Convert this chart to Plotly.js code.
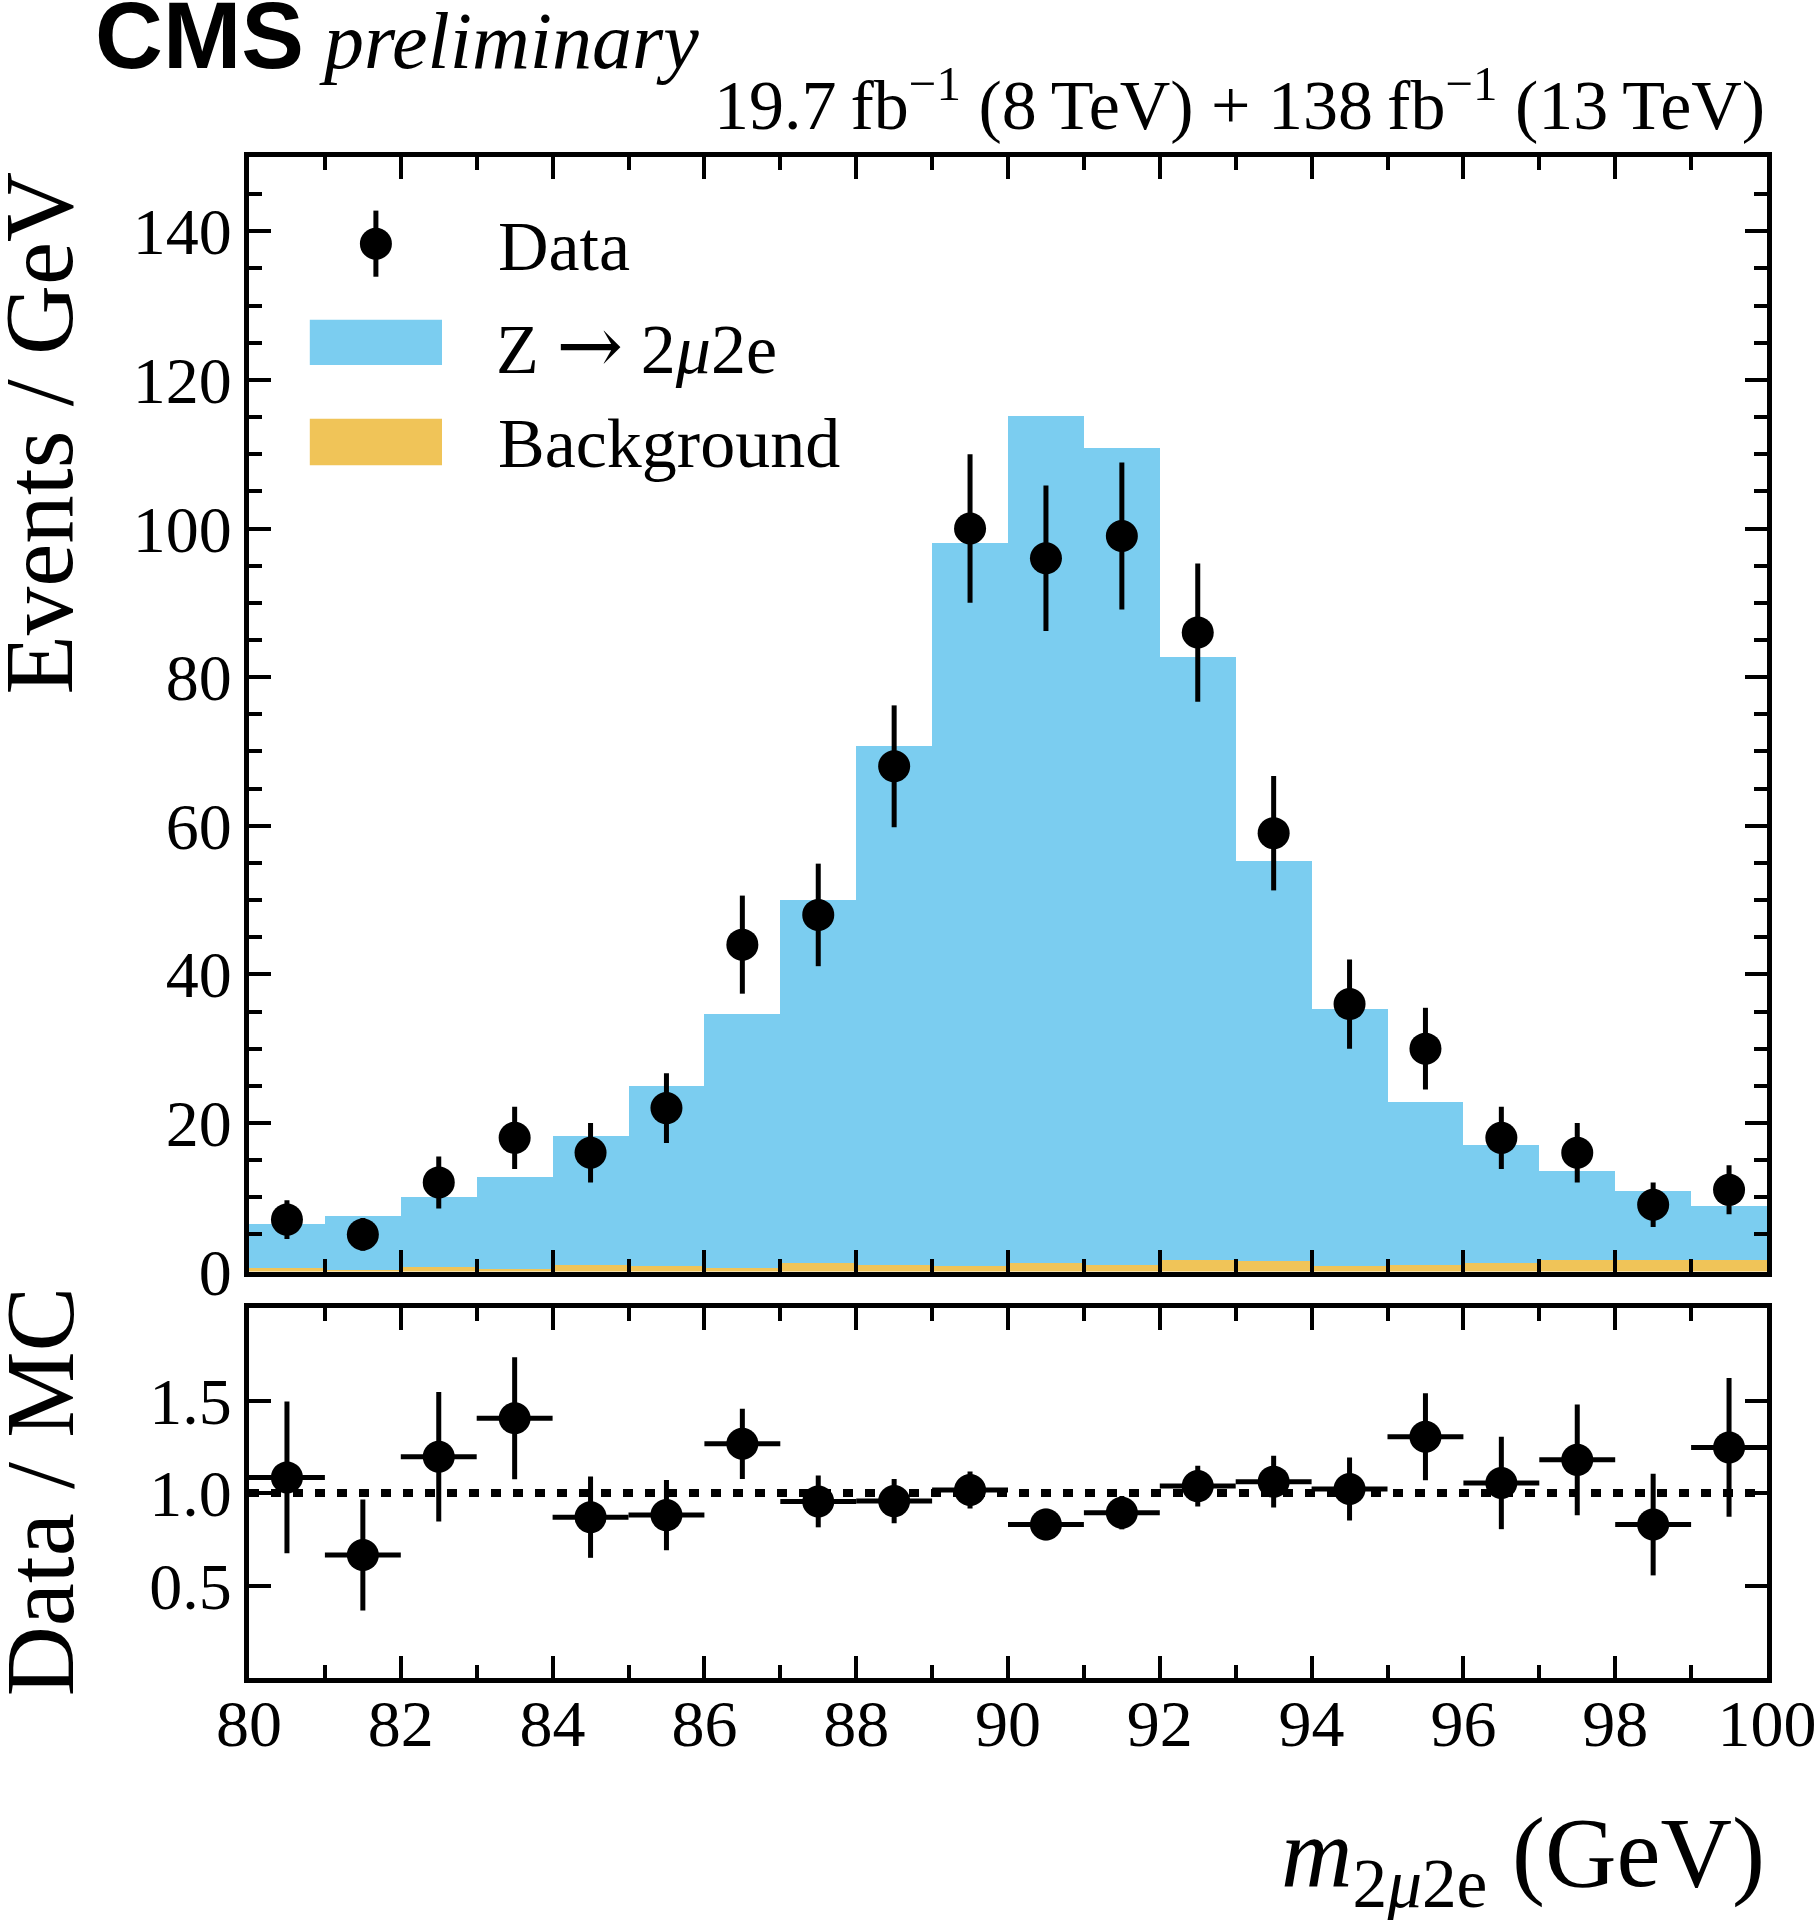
<!DOCTYPE html>
<html>
<head>
<meta charset="utf-8">
<script src="https://cdn.plot.ly/plotly-3.0.1.min.js"></script>
<style>html,body{margin:0;padding:0;background:#fff;}</style>
</head>
<body>
<div id="chart" style="width:1817px;height:1920px;"></div>
<script>
// ---- data ----
const binCenters = [80.5,81.5,82.5,83.5,84.5,85.5,86.5,87.5,88.5,89.5,90.5,91.5,92.5,93.5,94.5,95.5,96.5,97.5,98.5,99.5];
const binWidths  = [1,1,1,1,1,1,1,1,1,1,1,1,1,1,1,1,1,1,1,1];
const backgroundMC = [0.45,0.2,0.6,0.4,0.9,0.7,0.55,1.15,0.85,0.7,1.15,0.9,1.6,1.45,0.8,0.9,1.2,1.5,1.5,1.5];
const signalMC     = [6.0,7.3,9.4,12.3,17.4,24.3,34.05,48.85,69.95,97.3,114.05,109.9,81.1,53.85,34.5,21.9,15.8,12.0,9.3,7.3];
const dataCounts   = [7,5,12,18,16,22,44,48,68,100,96,99,86,59,36,30,18,16,9,11];
const dataErr      = [2.6,2.2,3.5,4.2,4.0,4.7,6.6,6.9,8.2,10.0,9.8,9.9,9.3,7.7,6.0,5.5,4.2,4.0,3.0,3.3];
const ratioVals    = [1.085,0.665,1.197,1.405,0.87,0.881,1.267,0.955,0.957,1.017,0.83,0.894,1.038,1.062,1.022,1.305,1.055,1.18,0.83,1.247];
const ratioErr     = [0.41,0.30,0.35,0.33,0.22,0.19,0.19,0.14,0.12,0.10,0.085,0.09,0.11,0.14,0.17,0.235,0.25,0.30,0.275,0.375];
const ratioXErr    = [0.5,0.5,0.5,0.5,0.5,0.5,0.5,0.5,0.5,0.5,0.5,0.5,0.5,0.5,0.5,0.5,0.5,0.5,0.5,0.5];
const xTickVals    = [80,82,84,86,88,90,92,94,96,98,100];
const yTickVals    = [0,20,40,60,80,100,120,140];
const ratioTickVals = [0.5,1.0,1.5];
const ratioTickText = ['0.5','1.0','1.5'];
const legendLabels = ['Data','Z <span style="font-family:\'DejaVu Serif\',serif;font-size:80px">\u2192</span> 2<i>\u03bc</i>2e','Background'];

const BLUE = 'rgb(123,205,240)';
const YELLOW = 'rgb(240,196,88)';
const SERIF = 'Liberation Serif, Times New Roman, serif';

const traces = [
  {type:'bar', x:binCenters, y:backgroundMC, width:binWidths, xaxis:'x', yaxis:'y',
   marker:{color:YELLOW, line:{width:0}}, name:'Background', showlegend:false, hoverinfo:'skip'},
  {type:'bar', x:binCenters, y:signalMC, width:binWidths, xaxis:'x', yaxis:'y',
   marker:{color:BLUE, line:{width:0}}, name:'Z', showlegend:false, hoverinfo:'skip'},
  {type:'scatter', mode:'markers', x:binCenters, y:dataCounts, xaxis:'x', yaxis:'y',
   marker:{color:'black', size:32},
   error_y:{type:'data', array:dataErr, visible:true, color:'black', thickness:5, width:0},
   name:'Data', showlegend:false},
  {type:'scatter', mode:'markers', x:binCenters, y:ratioVals, xaxis:'x2', yaxis:'y2',
   marker:{color:'black', size:32},
   error_y:{type:'data', array:ratioErr, visible:true, color:'black', thickness:5, width:0},
   error_x:{type:'data', array:ratioXErr, visible:true, color:'black', thickness:5, width:0},
   name:'Ratio', showlegend:false}
];

const axisCommon = {
  showline:true, linecolor:'black', linewidth:5, mirror:'allticks',
  ticks:'inside', ticklen:22, tickwidth:4, tickcolor:'black',
  showgrid:false, zeroline:false,
  tickfont:{family:SERIF, size:66, color:'black'}
};
const minorX = {dtick:1, tick0:80, ticks:'inside', ticklen:13, tickwidth:4, tickcolor:'black', showgrid:false};

const W = 1518, H = 1520.7, L = 249, T = 157;
function px(x){ return (x - L) / W; }
function py(y){ return (T + H - y) / H; }

const layout = {
  width:1817, height:1920,
  margin:{l:249, r:50, t:157, b:242.3, pad:0},
  paper_bgcolor:'white', plot_bgcolor:'white',
  barmode:'stack', bargap:0, showlegend:false,
  font:{family:SERIF, color:'black'},
  xaxis: Object.assign({}, axisCommon, {
    domain:[0,1], anchor:'y', range:[80,100], tickvals:xTickVals, showticklabels:false, matches:'x2',
    minor:minorX
  }),
  yaxis: Object.assign({}, axisCommon, {
    domain:[0.2672,1], anchor:'x', range:[0,150], tickvals:yTickVals, ticklabelstandoff:-1,
    minor:{dtick:5, tick0:0, ticks:'inside', ticklen:13, tickwidth:4, tickcolor:'black', showgrid:false}
  }),
  xaxis2: Object.assign({}, axisCommon, {
    domain:[0,1], anchor:'y2', range:[80,100], tickvals:xTickVals, ticklabelstandoff:-16,
    minor:minorX
  }),
  yaxis2: Object.assign({}, axisCommon, {
    domain:[0,0.2431], anchor:'x2', range:[0,2], tickvals:ratioTickVals, ticktext:ratioTickText, ticklabelstandoff:-1
  }),
  shapes:[
    {type:'line', layer:'below', xref:'x2 domain', yref:'y2', x0:0, x1:1, y0:1, y1:1,
     line:{color:'black', width:8, dash:'10px,12px'}},
    // legend: data symbol
    {type:'line', xref:'paper', yref:'paper', x0:px(375.9), x1:px(375.9), y0:py(210.6), y1:py(276.7),
     line:{color:'black', width:5}},
    {type:'circle', xref:'paper', yref:'paper', xsizemode:'pixel', ysizemode:'pixel',
     xanchor:px(375.9), yanchor:py(243.7), x0:-16, x1:16, y0:-16, y1:16,
     fillcolor:'black', line:{width:0}},
    // legend swatches
    {type:'rect', xref:'paper', yref:'paper', x0:px(309.8), x1:px(442), y0:py(364.9), y1:py(319.6),
     fillcolor:BLUE, line:{width:0}},
    {type:'rect', xref:'paper', yref:'paper', x0:px(309.8), x1:px(442), y0:py(465.3), y1:py(418.7),
     fillcolor:YELLOW, line:{width:0}}
  ],
  annotations:[
    {text:legendLabels[0], xref:'paper', yref:'paper', x:px(496), y:py(246), xanchor:'left', yanchor:'middle',
     showarrow:false, font:{family:SERIF, size:70, color:'black'}},
    {text:legendLabels[1], xref:'paper', yref:'paper', x:px(494), y:py(345), xanchor:'left', yanchor:'middle',
     showarrow:false, font:{family:SERIF, size:70, color:'black'}},
    {text:legendLabels[2], xref:'paper', yref:'paper', x:px(496), y:py(443), xanchor:'left', yanchor:'middle',
     showarrow:false, font:{family:SERIF, size:70, color:'black'}},
    // axis titles
    {text:'Events / GeV', xref:'paper', yref:'paper', x:px(40), y:py(170), textangle:-90,
     xanchor:'center', yanchor:'top', showarrow:false, font:{family:SERIF, size:97, color:'black'}},
    {text:'Data / MC', xref:'paper', yref:'paper', x:px(40), y:py(1491), textangle:-90,
     xanchor:'center', yanchor:'middle', showarrow:false, font:{family:SERIF, size:97, color:'black'}},
    {text:'<i>m</i><sub>2<i>\u03bc</i>2e</sub> (GeV)', xref:'paper', yref:'paper', x:1, y:py(1860),
     xanchor:'right', yanchor:'middle', showarrow:false, font:{family:SERIF, size:99, color:'black'}},
    // CMS label
    {text:'<span style="font-family:\'Liberation Sans\',Arial,sans-serif;font-weight:bold;font-size:94px">CMS</span> <span style="font-family:\'Liberation Serif\',serif;font-style:italic;font-size:80px">preliminary</span>',
     xref:'paper', yref:'paper', x:px(93), y:py(36), xanchor:'left', yanchor:'middle', showarrow:false,
     font:{family:SERIF, size:80, color:'black'}},
    // luminosity
    {text:'19.7\u2009fb<sup>\u22121</sup> (8\u2009TeV) + 138\u2009fb<sup>\u22121</sup> (13\u2009TeV)',
     xref:'paper', yref:'paper', x:1, y:py(100), xanchor:'right', yanchor:'middle', showarrow:false,
     font:{family:SERIF, size:70, color:'black'}}
  ]
};

Plotly.newPlot('chart', traces, layout, {staticPlot:true, displayModeBar:false});
</script>
</body>
</html>
